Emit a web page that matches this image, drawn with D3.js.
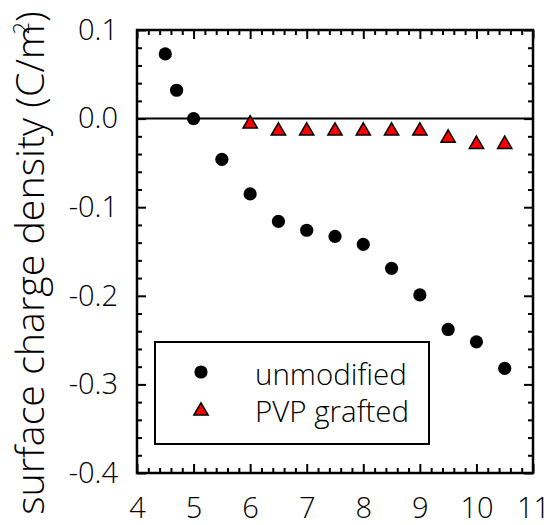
<!DOCTYPE html>
<meta charset="utf-8">
<html>
<head>
<script src="https://d3js.org/d3.v7.min.js"></script>
<style>
  body { margin: 0; background: #fff; }
  text { font-family: "Open Sans", sans-serif; font-weight: 300; fill: #000; }
</style>
</head>
<body>
<div id="chart"></div>
<script>
// pH values and surface charge density (C/m^2)
var phUnmodified = [4.5, 4.7, 5.0, 5.5, 6.0, 6.5, 7.0, 7.5, 8.0, 8.5, 9.0, 9.5, 10.0, 10.5];
var sigmaUnmodified = [0.073, 0.032, 0.0, -0.046, -0.085, -0.116, -0.126, -0.133, -0.142, -0.169, -0.199, -0.238, -0.252, -0.282];
var phGrafted = [6.0, 6.5, 7.0, 7.5, 8.0, 8.5, 9.0, 9.5, 10.0, 10.5];
var sigmaGrafted = [-0.006, -0.014, -0.014, -0.014, -0.014, -0.014, -0.014, -0.022, -0.029, -0.029];
var xTicks = [4, 5, 6, 7, 8, 9, 10, 11];
var yTicks = [-0.4, -0.3, -0.2, -0.1, 0.0, 0.1];
var legendLabels = ["unmodified", "PVP grafted"];

var width = 550, height = 525;
var margin = {top: 30, right: 17, bottom: 52, left: 137};

var svg = d3.select("#chart").append("svg")
    .attr("width", width)
    .attr("height", height);

var x = d3.scaleLinear().domain([4, 11]).range([margin.left, width - margin.right]);
var y = d3.scaleLinear().domain([-0.4, 0.1]).range([height - margin.bottom, margin.top]);

var minorX = d3.range(4, 11.001, 0.2).map(v => +v.toFixed(1)).filter(v => xTicks.indexOf(v) < 0);
var minorY = d3.range(-0.4, 0.1001, 0.02).map(v => +v.toFixed(2)).filter(v => yTicks.indexOf(v) < 0);

// plain hyphen for negatives, as in the original
var fmtY = d => d.toFixed(1);

function styleAxis(g) {
  g.select(".domain").remove();
  g.selectAll(".tick line").attr("stroke", "#000").attr("stroke-width", 2);
  g.selectAll("text").style("font-size", "29px").attr("font-family", null);
}

// bottom axis
svg.append("g")
    .attr("transform", `translate(0,${y(-0.4)})`)
    .call(d3.axisBottom(x).tickValues(xTicks).tickSize(-9).tickPadding(24).tickFormat(d3.format("d")))
    .call(styleAxis);
svg.append("g")
    .attr("transform", `translate(0,${y(-0.4)})`)
    .call(d3.axisBottom(x).tickValues(minorX).tickSize(-5).tickFormat(""))
    .call(styleAxis);
// top axis
svg.append("g")
    .attr("transform", `translate(0,${y(0.1)})`)
    .call(d3.axisTop(x).tickValues(xTicks).tickSize(-9).tickFormat(""))
    .call(styleAxis);
svg.append("g")
    .attr("transform", `translate(0,${y(0.1)})`)
    .call(d3.axisTop(x).tickValues(minorX).tickSize(-5).tickFormat(""))
    .call(styleAxis);
// left axis
svg.append("g")
    .attr("transform", `translate(${x(4)},0)`)
    .call(d3.axisLeft(y).tickValues(yTicks).tickSize(-9).tickPadding(19).tickFormat(fmtY))
    .call(styleAxis);
svg.append("g")
    .attr("transform", `translate(${x(4)},0)`)
    .call(d3.axisLeft(y).tickValues(minorY).tickSize(-5).tickFormat(""))
    .call(styleAxis);
// right axis
svg.append("g")
    .attr("transform", `translate(${x(11)},0)`)
    .call(d3.axisRight(y).tickValues(yTicks).tickSize(-9).tickFormat(""))
    .call(styleAxis);
svg.append("g")
    .attr("transform", `translate(${x(11)},0)`)
    .call(d3.axisRight(y).tickValues(minorY).tickSize(-5).tickFormat(""))
    .call(styleAxis);

// frame
svg.append("rect")
    .attr("x", x(4)).attr("y", y(0.1))
    .attr("width", x(11) - x(4)).attr("height", y(-0.4) - y(0.1))
    .attr("fill", "none").attr("stroke", "#000").attr("stroke-width", 2.5);

// zero line
svg.append("line")
    .attr("x1", x(4)).attr("x2", x(11))
    .attr("y1", y(0)).attr("y2", y(0))
    .attr("stroke", "#000").attr("stroke-width", 2);

// y label, sized to fill the left edge like the original
var ylab = svg.append("text")
    .attr("transform", "translate(44,263) rotate(-90)")
    .attr("text-anchor", "middle")
    .style("font-size", "36px");
ylab.append("tspan").text("surface charge density (C/m");
ylab.append("tspan").attr("dy", -15).attr("dx", -10).style("font-size", "22px").text("2");
ylab.append("tspan").attr("dy", 15).text(")");
var labLen = ylab.node().getComputedTextLength();
ylab.style("font-size", (36 * 515 / labLen) + "px");

var tri = d3.symbol(d3.symbolTriangle, 88);

// unmodified
svg.append("g").selectAll("circle")
    .data(phUnmodified)
    .join("circle")
    .attr("cx", d => x(d))
    .attr("cy", (d, i) => y(sigmaUnmodified[i]))
    .attr("r", 6.6)
    .attr("fill", "#000");

// PVP grafted
svg.append("g").selectAll("path")
    .data(phGrafted)
    .join("path")
    .attr("transform", (d, i) => `translate(${x(d)},${y(sigmaGrafted[i])})`)
    .attr("d", tri)
    .attr("fill", "#ff0000")
    .attr("stroke", "#000")
    .attr("stroke-width", 1.5);

// legend
var lg = svg.append("g");
lg.append("rect")
    .attr("x", 155).attr("y", 342)
    .attr("width", 274).attr("height", 102)
    .attr("fill", "#fff").attr("stroke", "#000").attr("stroke-width", 2);
lg.append("circle").attr("cx", 201).attr("cy", 372).attr("r", 6.6).attr("fill", "#000");
lg.append("path").attr("transform", "translate(201,411)").attr("d", tri)
    .attr("fill", "#ff0000").attr("stroke", "#000").attr("stroke-width", 1.5);
lg.selectAll("text.lab")
    .data(legendLabels)
    .join("text")
    .attr("class", "lab")
    .attr("x", 255)
    .attr("y", (d, i) => 385 + i * 37)
    .style("font-size", "29.5px")
    .text(d => d);
</script>
</body>
</html>
